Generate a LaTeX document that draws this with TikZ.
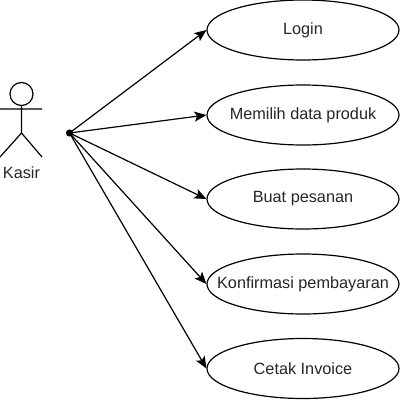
\documentclass[tikz,border=0pt]{standalone}
\usepackage{fontspec}
\setmainfont{Liberation Sans}
\usetikzlibrary{shapes.geometric,arrows.meta}
\begin{document}
\begin{tikzpicture}[x=.75pt,y=-.75pt,
 uc/.style={draw,ellipse,minimum width=144pt,minimum height=45pt,inner xsep=-20pt,inner ysep=0pt,line width=.9pt,font=\fontsize{12.2}{14}\selectfont,text=black!85},
 edge/.style={-{Stealth[length=9pt,width=7.5pt,inset=2pt]},line width=.9pt},
 actor/.style={line width=.9pt}]
\useasboundingbox (0,0) rectangle (400,400);
\draw[actor] (21.5,94) circle[radius=11.5];
\draw[actor] (21.5,105.5)--(21.5,133) (0,109)--(42,109) (21.5,133)--(0,157) (21.5,133)--(42,157);
\node[font=\fontsize{12.2}{14}\selectfont,text=black!85] (k) at (21.5,173) {Kasir};
\node[uc] (a) at (303,30) {Login};
\node[uc] (b) at (303,115) {Memilih data produk};
\node[uc] (c) at (303,199) {Buat pesanan};
\node[uc] (d) at (303,284) {Konfirmasi pembayaran};
\node[uc] (e) at (303,368.5) {Cetak Invoice};
\coordinate (o) at (69.5,133);
\fill (o) circle[radius=3.6];
\foreach \t in {a,b,c,d,e} \draw[edge] (o)--(\t.west);
\end{tikzpicture}
\end{document}
